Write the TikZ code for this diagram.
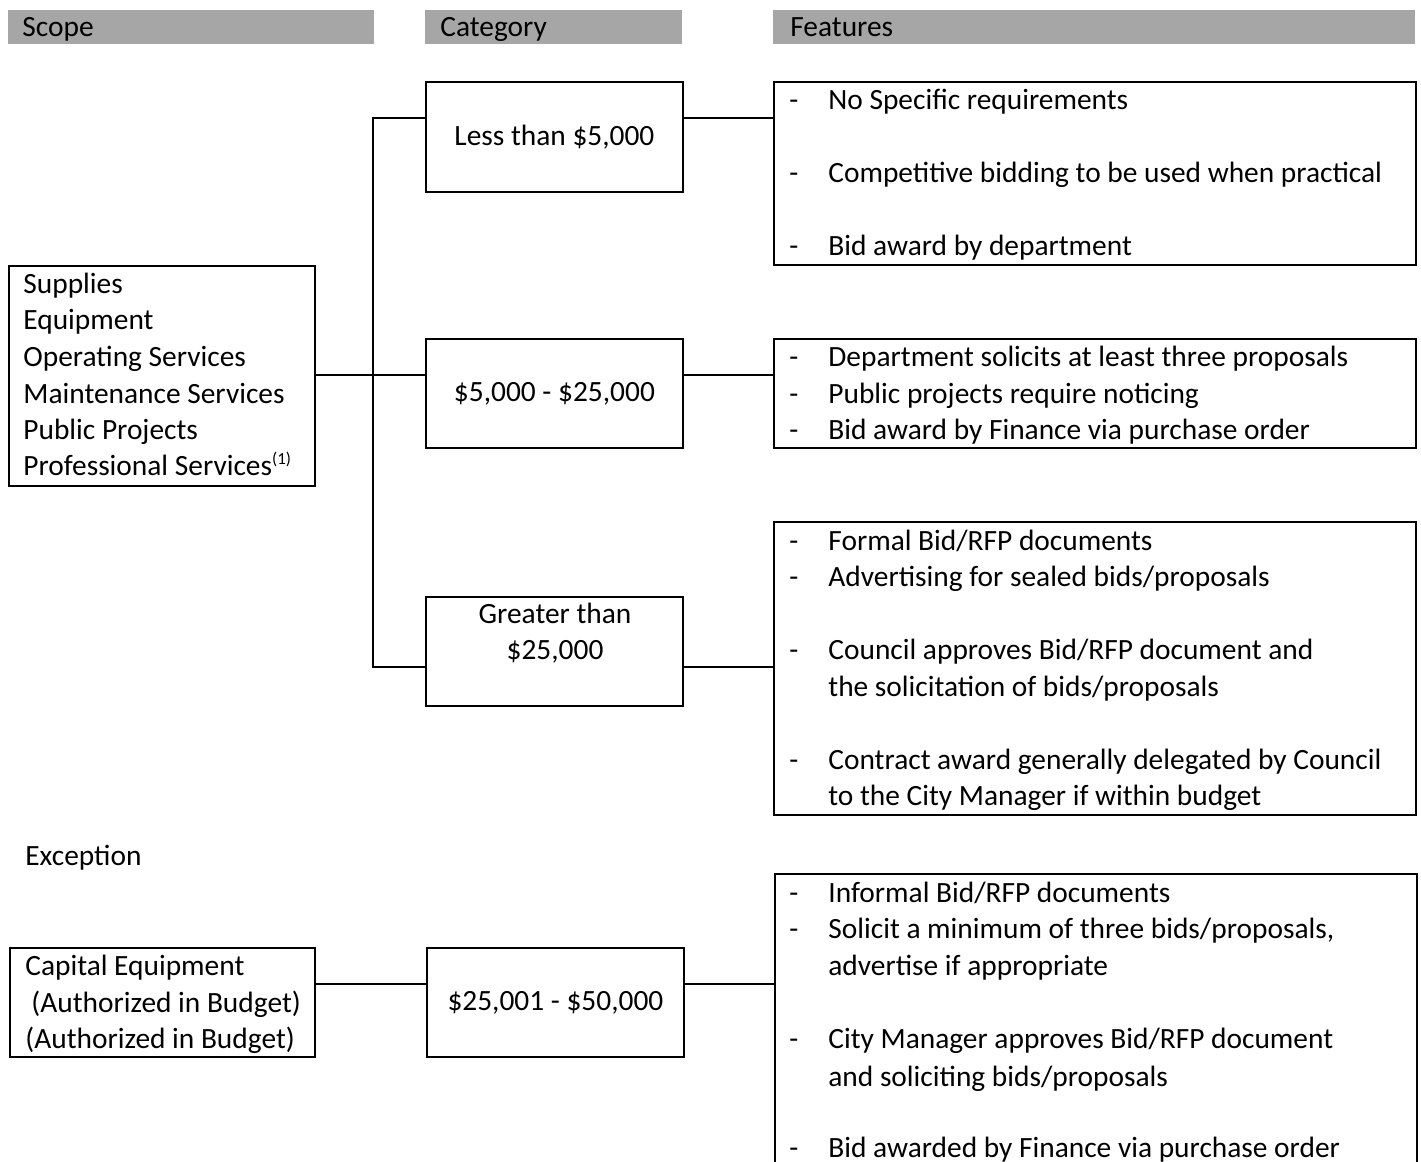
\documentclass[tikz,border=0pt]{standalone}
\usepackage{fontspec}
\setmainfont{Carlito}
\newcommand{\fs}{\fontsize{14.7pt}{18pt}\selectfont}
\begin{document}
\begin{tikzpicture}[x=0.5pt,y=-0.5pt,
  box/.style={draw,line width=0.9pt,inner sep=0,anchor=north west,font=\fs},
  hdr/.style={fill=black!35,inner sep=0,anchor=north west},
  txt/.style={anchor=base west,inner sep=0,font=\fs},
  ctxt/.style={anchor=base,inner sep=0,font=\fs},
  conn/.style={line width=0.8pt}]
\clip (0,0) rectangle (1421,1162);
\fill[white] (0,0) rectangle (1421,1162);
% headers
\node[hdr,minimum width=183pt,minimum height=17pt] (hs) at (8,10) {};
\node[hdr,minimum width=128.5pt,minimum height=17pt] (hc) at (425,10) {};
\node[hdr,minimum width=321pt,minimum height=17pt] (hf) at (773,10) {};
\node[txt] (hst) at (22,36) {Scope};
\node[txt] (hct) at (440,36) {Category};
\node[txt] (hft) at (790,36) {Features};
% boxes
\node[box,minimum width=153pt,minimum height=110pt] (scope) at (8,265) {};
\node[box,minimum width=128.5pt,minimum height=55pt] (cat1) at (425,81) {Less than \$5,000};
\node[box,minimum width=321pt,minimum height=91.5pt] (f1) at (773,81) {};
\node[box,minimum width=128.5pt,minimum height=54.5pt] (cat2) at (425,338) {\$5,000 - \$25,000};
\node[box,minimum width=321pt,minimum height=54.5pt] (f2) at (773,338) {};
\node[box,minimum width=128.5pt,minimum height=54.5pt] (cat3) at (425,596) {};
\node[box,minimum width=321pt,minimum height=146.5pt] (f3) at (773,521) {};
\node[box,minimum width=152.5pt,minimum height=54.5pt] (cap) at (9,947) {};
\node[box,minimum width=128.5pt,minimum height=54.5pt] (cat4) at (426,947) {\$25,001 - \$50,000};
\node[box,minimum width=321pt,minimum height=160pt] (f4) at (774,873) {};
% scope text
\foreach \t/\y [count=\i] in {Supplies/293,Equipment/329,Operating Services/366,Maintenance Services/403,Public Projects/439,{Professional Services\textsuperscript{\fontsize{8.5pt}{8.5pt}\selectfont(1)}}/475}
  \node[txt,name=s\i] at (23,\y) {\t};
% cat3 text
\node[ctxt] (c3a) at (555,623) {Greater than};
\node[ctxt] (c3b) at (555,659) {\$25,000};
% features 1
\foreach \t/\y [count=\i] in {No Specific requirements/109,Competitive bidding to be used when practical/182,Bid award by department/255}
  {\node[txt,name=f1d\i] at (789,\y) {-}; \node[txt,name=f1t\i] at (828,\y) {\t};}
% features 2
\foreach \t/\y [count=\i] in {Department solicits at least three proposals/366,Public projects require noticing/403,Bid award by Finance via purchase order/439}
  {\node[txt,name=f2d\i] at (789,\y) {-}; \node[txt,name=f2t\i] at (828,\y) {\t};}
% features 3
\foreach \t/\y [count=\i] in {{Formal Bid/RFP documents}/550,{Advertising for sealed bids/proposals}/586,{Council approves Bid/RFP document and}/659,{Contract award generally delegated by Council}/769}
  {\node[txt,name=f3d\i] at (789,\y) {-}; \node[txt,name=f3t\i] at (828,\y) {\t};}
\node[txt] (f3c) at (828,696) {the solicitation of bids/proposals};
\node[txt] (f3e) at (828,805) {to the City Manager if within budget};
% exception
\node[txt] (exc) at (25,865) {Exception};
\node[txt] (cap1) at (25,975) {Capital Equipment};
\node[txt] (cap2) at (31,1012) {(Authorized in Budget)};
\node[txt] (cap3) at (25,1048) {(Authorized in Budget)};
% features 4
\foreach \t/\y [count=\i] in {{Informal Bid/RFP documents}/902,{Solicit a minimum of three bids/proposals,}/938,{City Manager approves Bid/RFP document}/1048,{Bid awarded by Finance via purchase order}/1157}
  {\node[txt,name=f4d\i] at (789,\y) {-}; \node[txt,name=f4t\i] at (828,\y) {\t};}
\node[txt] (f4b) at (828,975) {advertise if appropriate};
\node[txt] (f4c) at (828,1086) {and soliciting bids/proposals};
% connectors
\coordinate (j1) at (373,118);
\coordinate (j3) at (373,667);
\coordinate (jm) at (373,375);
\coordinate (je) at (500,984);
\draw[conn] (j1 -| cat1.west) -- (j1) -- (j3) -- (j3 -| cat3.west);
\draw[conn] (jm -| scope.east) -- (jm -| cat2.west);
\draw[conn] (j1 -| cat1.east) -- (j1 -| f1.west);
\draw[conn] (jm -| cat2.east) -- (jm -| f2.west);
\draw[conn] (j3 -| cat3.east) -- (j3 -| f3.west);
\draw[conn] (je -| cap.east) -- (je -| cat4.west);
\draw[conn] (je -| cat4.east) -- (je -| f4.west);
\end{tikzpicture}
\end{document}
